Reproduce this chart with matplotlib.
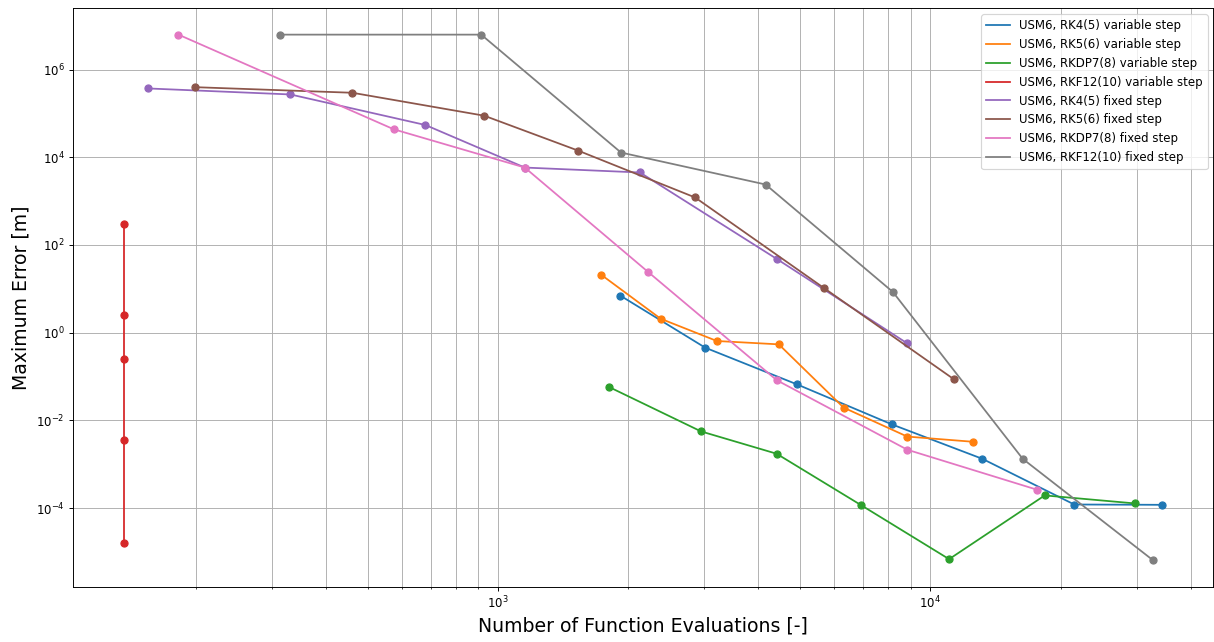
import matplotlib
matplotlib.use("Agg")
import matplotlib.pyplot as plt

# Function evaluations and max position error for each integrator (USM6 propagation)
rk45_var_nfe = [1920, 3016, 4918, 8150, 13190, 21510, 34240]
rk45_var_err = [6.98, 0.455, 0.0662, 0.0081, 1.33e-3, 1.21e-4, 1.19e-4]

rk56_var_nfe = [1736, 2379, 3209, 4462, 6300, 8840, 12532]
rk56_var_err = [20.7, 2.08, 0.646, 0.542, 0.0196, 0.00428, 0.00326]

rkdp78_var_nfe = [1809, 2950, 4410, 6895, 11048, 18383, 29720]
rkdp78_var_err = [0.0575, 0.00561, 0.00174, 1.19e-4, 6.87e-6, 1.95e-4, 1.28e-4]

rkf1210_var_nfe = [137, 137, 137, 137, 137]
rkf1210_var_err = [296, 2.57, 0.251, 3.56e-3, 1.6e-5]

rk45_fix_nfe = [155.4, 331.4, 680, 1154, 2131, 4414, 8840]
rk45_fix_err = [3.70e5, 2.70e5, 5.43e4, 5.82e3, 4.49e3, 48, 0.571]

rk56_fix_nfe = [199, 461, 930, 1532, 2858, 5677, 11345]
rk56_fix_err = [3.96e5, 2.95e5, 8.85e4, 1.42e4, 1.21e3, 10.4, 0.0861]

rkdp78_fix_nfe = [182.6, 574.8, 1154, 2220, 4414, 8850, 17665]
rkdp78_fix_err = [6.24e6, 4.33e4, 5.82e3, 24.7, 0.0825, 0.00214, 2.62e-4]

rkf1210_fix_nfe = [313.7, 915, 1926, 4159, 8191, 16350, 32770]
rkf1210_fix_err = [6.24e6, 6.24e6, 1.28e4, 2.39e3, 8.47, 1.33e-3, 6.4e-6]

runs = [
  (rk45_var_nfe, rk45_var_err, "USM6, RK4(5) variable step"),
  (rk56_var_nfe, rk56_var_err, "USM6, RK5(6) variable step"),
  (rkdp78_var_nfe, rkdp78_var_err, "USM6, RKDP7(8) variable step"),
  (rkf1210_var_nfe, rkf1210_var_err, "USM6, RKF12(10) variable step"),
  (rk45_fix_nfe, rk45_fix_err, "USM6, RK4(5) fixed step"),
  (rk56_fix_nfe, rk56_fix_err, "USM6, RK5(6) fixed step"),
  (rkdp78_fix_nfe, rkdp78_fix_err, "USM6, RKDP7(8) fixed step"),
  (rkf1210_fix_nfe, rkf1210_fix_err, "USM6, RKF12(10) fixed step"),
]

fig, ax = plt.subplots(figsize=(14.29, 7.553), dpi=85)

for i, (nfe, err, name) in enumerate(runs):
  c = f"C{i}"
  ax.loglog(nfe, err, color=c, label=name)   # line only, so the legend has no marker
  ax.loglog(nfe, err, "o", color=c)

ax.set_xlabel("Number of Function Evaluations [-]", fontsize=16)
ax.set_ylabel("Maximum Error [m]", fontsize=16)
ax.grid(True, which="both")
ax.legend(loc="upper right")

fig.subplots_adjust(left=0.0598, right=0.999, top=0.987, bottom=0.086)
fig.savefig("out.png", dpi=85)
